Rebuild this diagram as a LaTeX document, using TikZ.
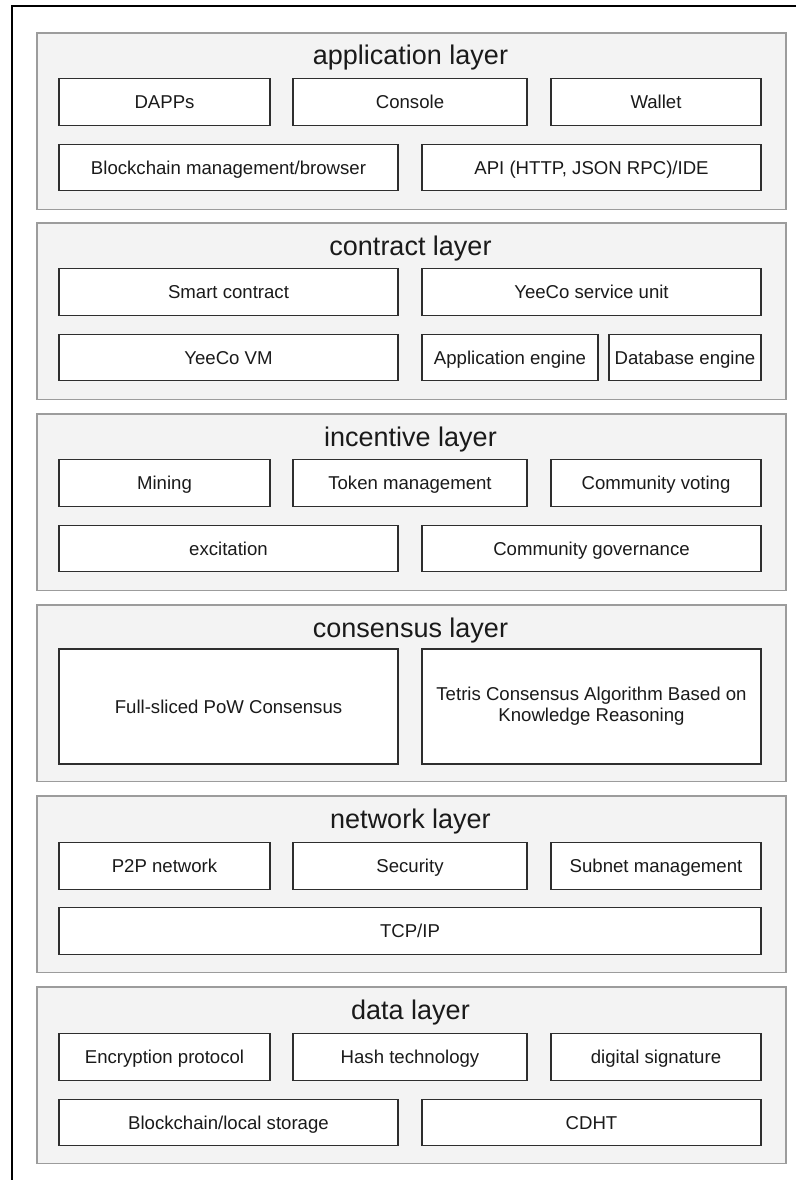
\documentclass[tikz,border=0pt]{standalone}
\usepackage{fontspec}
\setmainfont{Liberation Sans}
\definecolor{layerfill}{HTML}{F3F3F3}
\definecolor{layerdraw}{HTML}{9C9C9C}
\definecolor{boxdraw}{HTML}{2E2E2E}
\definecolor{txt}{HTML}{1A1A1A}
\tikzset{
  layerbox/.style={draw=layerdraw, fill=layerfill, line width=1.6pt, rectangle, inner sep=0pt,
    minimum width=749pt, minimum height=176.5pt, anchor=north west},
  titletext/.style={anchor=base, inner sep=0pt, text=txt, font=\fontsize{27}{32}\selectfont},
  itembox/.style={draw=boxdraw, fill=white, line width=1.1pt, rectangle, inner sep=0pt,
    text=txt, font=\fontsize{18.6}{21}\selectfont, text height=13.3pt, text depth=0pt,
    minimum height=46.5pt},
  tallbox/.style={draw=boxdraw, fill=white, line width=1.1pt, rectangle, inner sep=0pt,
    text=txt, font=\fontsize{18.6}{21}\selectfont, align=center, minimum height=115pt, minimum width=339pt},
  colA/.style={itembox, minimum width=211pt},
  colB/.style={itembox, minimum width=234pt},
  colC/.style={itembox, minimum width=210pt},
  half/.style={itembox, minimum width=339pt},
  full/.style={itembox, minimum width=702pt},
  frameline/.style={draw=black, line width=1.5pt}
}
\begin{document}
\begin{tikzpicture}[x=1pt,y=-1pt]
\useasboundingbox (0,0) rectangle (796,1180);
% outer frame (top and left edges)
\coordinate (fTR) at (796,6);
\coordinate (fTL) at (12,6);
\coordinate (fBL) at (12,1180);
\draw[frameline] (fTR) -- (fTL) -- (fBL);

% ---------- application layer ----------
\node[layerbox] (app) at (36,32) {};
\node[titletext] (appT) at (410.5,65) {application layer};
\node[colA] (dapps) at (164.5,102) {DAPPs};
\node[colB] (console) at (410,102) {Console};
\node[colC] (wallet) at (656,102) {Wallet};
\node[half] (bcm) at (228.5,167.5) {Blockchain management/browser};
\node[half] (api) at (591.5,167.5) {API (HTTP, JSON RPC)/IDE};

% ---------- contract layer ----------
\node[layerbox] (con) at (36,222) {};
\node[titletext] (conT) at (410.5,255) {contract layer};
\node[half] (smart) at (228.5,292) {Smart contract};
\node[half] (ysu) at (591.5,292) {YeeCo service unit};
\node[half] (yvm) at (228.5,357.5) {YeeCo VM};
\node[itembox, minimum width=176pt] (appeng) at (510,357.5) {Application engine};
\node[itembox, minimum width=152pt] (dbeng) at (685,357.5) {Database engine};

% ---------- incentive layer ----------
\node[layerbox] (inc) at (36,413) {};
\node[titletext] (incT) at (410.5,446) {incentive layer};
\node[colA] (mining) at (164.5,483) {Mining};
\node[colB] (token) at (410,483) {Token management};
\node[colC] (voting) at (656,483) {Community voting};
\node[half] (excit) at (228.5,548.5) {excitation};
\node[half] (gov) at (591.5,548.5) {Community governance};

% ---------- consensus layer ----------
\node[layerbox] (cns) at (36,604) {};
\node[titletext] (cnsT) at (410.5,637) {consensus layer};
\node[tallbox] (pow) at (228.5,706.5) {Full-sliced PoW Consensus};
\node[tallbox] (tetris) at (591.5,706.5) {Tetris Consensus Algorithm Based on\\Knowledge Reasoning};

% ---------- network layer ----------
\node[layerbox] (net) at (36,795) {};
\node[titletext] (netT) at (410.5,828) {network layer};
\node[colA] (p2p) at (164.5,866) {P2P network};
\node[colB] (sec) at (410,866) {Security};
\node[colC] (subnet) at (656,866) {Subnet management};
\node[full] (tcp) at (410,931) {TCP/IP};

% ---------- data layer ----------
\node[layerbox] (dat) at (36,986) {};
\node[titletext] (datT) at (410.5,1019) {data layer};
\node[colA] (enc) at (164.5,1057) {Encryption protocol};
\node[colB] (hash) at (410,1057) {Hash technology};
\node[colC] (sig) at (656,1057) {digital signature};
\node[half] (store) at (228.5,1122.5) {Blockchain/local storage};
\node[half] (cdht) at (591.5,1122.5) {CDHT};
\end{tikzpicture}
\end{document}
